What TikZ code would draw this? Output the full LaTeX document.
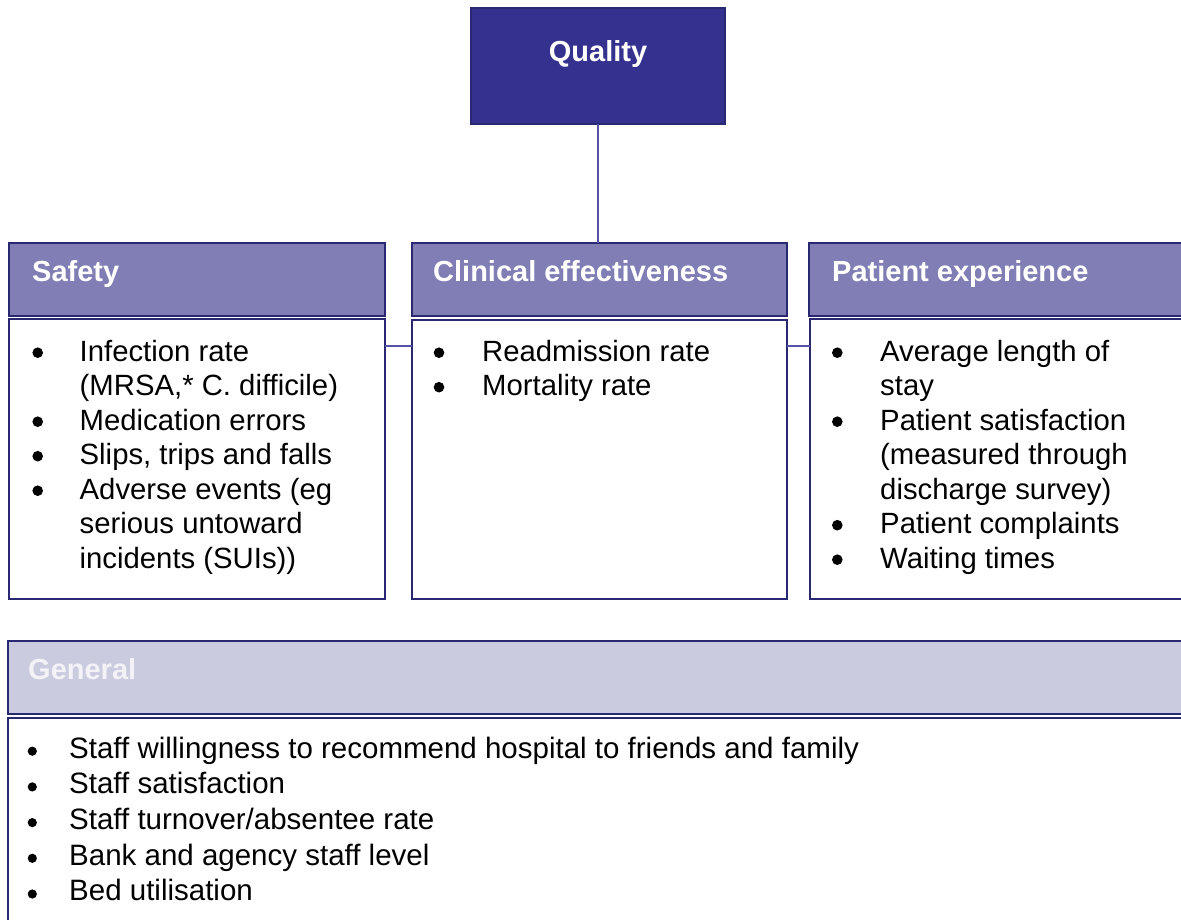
\documentclass[tikz,border=0pt]{standalone}
\usepackage{fontspec}
\setmainfont{Liberation Sans}
\definecolor{qfill}{HTML}{35318F}
\definecolor{hfill}{HTML}{807EB4}
\definecolor{gfill}{HTML}{CBCBDF}
\definecolor{bord}{HTML}{2A2870}
\definecolor{connc}{HTML}{5553A6}
\definecolor{gtext}{HTML}{F2F2F7}
\tikzset{
  box/.style={rectangle, draw=bord, line width=2pt, inner sep=0pt, outer sep=0pt, anchor=north west},
  hdrbox/.style={box, fill=hfill},
  bodybox/.style={box, fill=white},
  hdrtext/.style={anchor=base west, inner sep=0pt, text=white, font=\fontsize{29}{34}\selectfont\bfseries},
  listtext/.style={anchor=base west, inner sep=0pt, text=black},
  conn/.style={draw=connc, line width=1.3pt},
  dot/.style={fill=black}
}
\newcommand{\lst}[1]{{\fontsize{29.3}{34.5}\selectfont\renewcommand{\arraystretch}{1}\begin{tabular}[t]{@{}l@{}}#1\end{tabular}}}
\newcommand{\glst}[1]{{\fontsize{29.5}{35.7}\selectfont\renewcommand{\arraystretch}{1}\begin{tabular}[t]{@{}l@{}}#1\end{tabular}}}
\begin{document}
\begin{tikzpicture}[x=1pt,y=-1pt]
\useasboundingbox (0,0) rectangle (1181,920);
\clip (0,0) rectangle (1181,920);
\fill[white] (0,0) rectangle (1181,920);

% top box
\node[box, fill=qfill, draw=bord, line width=1.5pt, minimum width=254pt, minimum height=116pt] (quality) at (471,8) {};
\node[anchor=base, inner sep=0pt, text=white, font=\fontsize{29}{34}\selectfont\bfseries] (qualityT) at (598,62) {Quality};

% headers
\node[hdrbox, minimum width=376pt, minimum height=73pt] (safetyH) at (9,243) {};
\node[hdrbox, minimum width=375pt, minimum height=73pt] (clinH) at (412,243) {};
\node[hdrbox, minimum width=400pt, minimum height=73pt] (patH) at (809,243) {};
\node[hdrtext] (safetyT) at (32,281) {Safety};
\node[hdrtext] (clinT) at (433,281) {Clinical effectiveness};
\node[hdrtext] (patT) at (832,281) {Patient experience};

% bodies
\node[bodybox, minimum width=376pt, minimum height=280pt] (safetyB) at (9,319) {};
\node[bodybox, minimum width=375pt, minimum height=279pt] (clinB) at (412,320) {};
\node[bodybox, minimum width=400pt, minimum height=280pt] (patB) at (810,319) {};

% connectors
\draw[conn] (quality.south) -- (clinH.north -| quality.south);
\draw[conn] ([yshift=-27pt]safetyB.north east) -- ([yshift=-27pt]safetyB.north east -| clinB.west);
\draw[conn] ([yshift=-26pt]clinB.north east) -- ([yshift=-26pt]clinB.north east -| patB.west);

% lists
\node[listtext] (safetyL) at (79.5,361) {\lst{Infection rate\\(MRSA,* C. difficile)\\Medication errors\\Slips, trips and falls\\Adverse events (eg\\serious untoward\\incidents (SUIs))}};
\node[listtext] (clinL) at (482,361) {\lst{Readmission rate\\Mortality rate}};
\node[listtext] (patL) at (880,361) {\lst{Average length of\\stay\\Patient satisfaction\\(measured through\\discharge survey)\\Patient complaints\\Waiting times}};

\foreach \k in {0,2,3,4} \fill[dot] (37.7,{361+34.5*\k-8.3}) circle (5.3pt);
\foreach \k in {0,1} \fill[dot] (439,{361+34.5*\k-8.3}) circle (5.3pt);
\foreach \k in {0,2,5,6} \fill[dot] (837.3,{361+34.5*\k-8.3}) circle (5.3pt);

% general
\node[box, fill=gfill, minimum width=1200pt, minimum height=73pt] (genH) at (8,641) {};
\node[hdrtext, text=gtext] (genT) at (28,679) {General};
\node[bodybox, minimum width=1200pt, minimum height=240pt] (genB) at (8,718) {};
\node[listtext] (genL) at (69,758) {\glst{Staff willingness to recommend hospital to friends and family\\Staff satisfaction\\Staff turnover/absentee rate\\Bank and agency staff level\\Bed utilisation}};
\foreach \k in {0,...,4} \fill[dot] (32.3,{758+35.7*\k-6.8}) circle (4.6pt);
\end{tikzpicture}
\end{document}
